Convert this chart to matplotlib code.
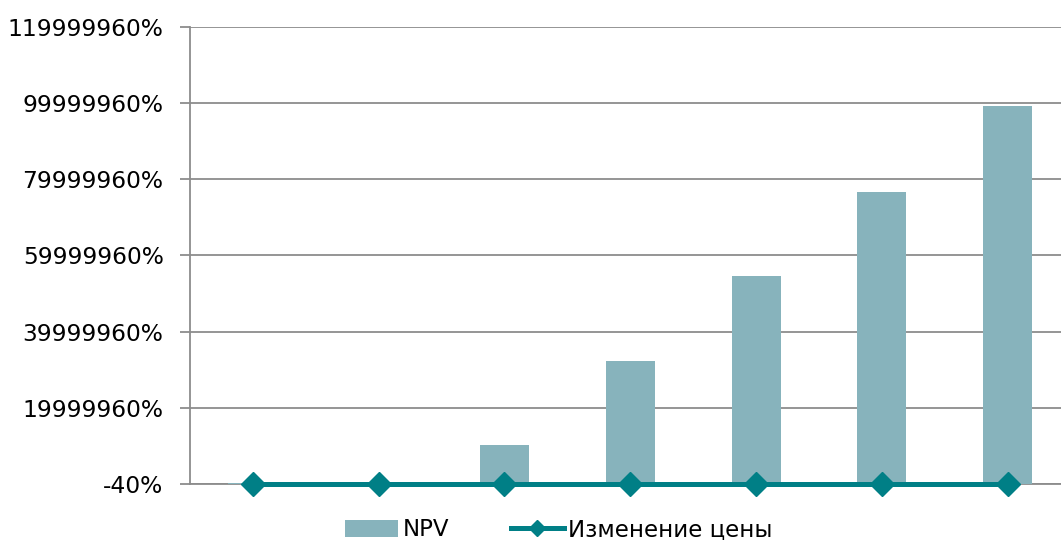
import matplotlib.pyplot as plt
from matplotlib.ticker import FixedLocator, FuncFormatter

categories = ["1", "2", "3", "4", "5", "6", "7"]
npv = [250000, 0, 10260000, 32400000, 54700000, 76800000, 99200000]
price_change = [-30, -20, -10, 0, 10, 20, 30]
yticks = [-40 + 20000000 * k for k in range(7)]

bar_color = "#87B3BC"
line_color = "#007F86"
grid_color = "#8C8C8C"

plt.rcParams["font.family"] = ["DejaVu Sans"]

fig = plt.figure(figsize=(10.61, 5.4), dpi=100)
ax = fig.add_axes([190 / 1061, 56 / 540, 880.6 / 1061, 457 / 540])

x = list(range(len(categories)))
bars = ax.bar(x, npv, width=0.39, color=bar_color, label="NPV", zorder=2)
# line sits on the bottom edge, so don't clip it
line, = ax.plot(x, price_change, color=line_color, lw=3.6, marker="D", markersize=12,
                label="Изменение цены", zorder=3, clip_on=False)

ax.set_xlim(-0.5, len(categories) - 0.5)
ax.set_ylim(yticks[0], yticks[-1])
ax.yaxis.set_major_locator(FixedLocator(yticks))
ax.yaxis.set_major_formatter(FuncFormatter(lambda v, p: "%d%%" % round(v)))
ax.set_xticks([])
ax.grid(axis="y", color=grid_color, lw=1.3, zorder=0)

for s in ["top", "right"]:
    ax.spines[s].set_visible(False)
for s in ["left", "bottom"]:
    ax.spines[s].set_color(grid_color)
    ax.spines[s].set_linewidth(1.3)
    ax.spines[s].set_zorder(1)
ax.tick_params(axis="y", length=7, color=grid_color, width=1.3, labelsize=16.8, pad=12)

fig.legend([bars, line], ["NPV", "Изменение цены"], loc="center",
           bbox_to_anchor=(559 / 1061, 10 / 540), ncol=2, frameon=False,
           fontsize=16.5, handlelength=2.3, columnspacing=2.7, handletextpad=0.2,
           markerscale=0.65)

fig.savefig("out.png", dpi=100)
